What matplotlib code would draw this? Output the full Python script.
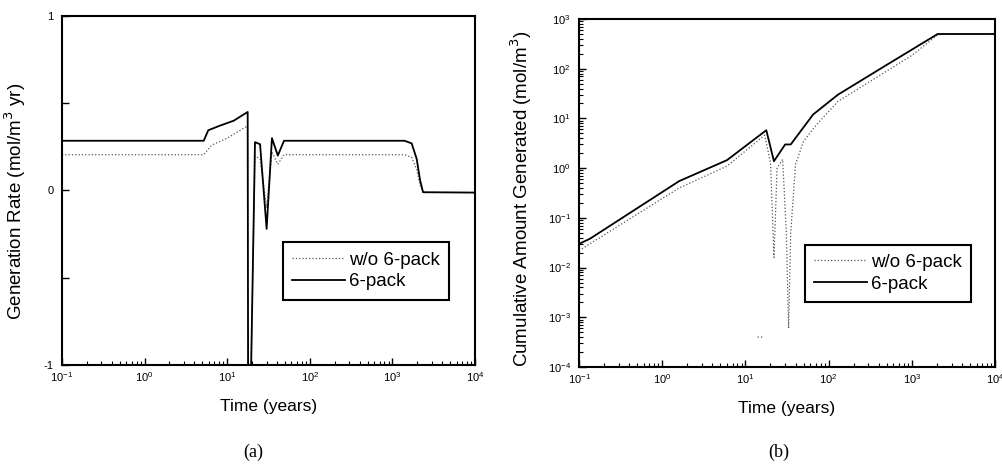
import numpy as np
import matplotlib
matplotlib.use("Agg")
import matplotlib.pyplot as plt
from matplotlib.ticker import LogLocator, NullFormatter, FixedLocator, FuncFormatter

plt.rcParams['font.family'] = ['Liberation Sans', 'DejaVu Sans']

# panel (a): generation rate
t_a_pack = [0.1, 5.2, 5.9, 8, 12, 17.7, 17.9, 19.5, 21.7, 25, 30, 34.8, 41, 48.7,
            1400, 1710, 1970, 2160, 2350, 10000]
r_a_pack = [0.285, 0.285, 0.345, 0.37, 0.40, 0.45, -1.0, -1.0, 0.277, 0.265, -0.22, 0.30, 0.20, 0.285,
            0.285, 0.27, 0.18, 0.06, -0.01, -0.012]
t_a_nopack = [0.1, 5.2, 6.5, 10, 17.6, 17.8, 19.5, 21.7, 25, 30, 34.8, 41, 48.7,
              1400, 1710, 1970, 2160, 2350, 10000]
r_a_nopack = [0.205, 0.205, 0.26, 0.30, 0.37, -1.0, -1.0, 0.20, 0.18, -0.10, 0.22, 0.15, 0.205,
              0.205, 0.19, 0.12, 0.03, -0.01, -0.012]

# panel (b): cumulative amount generated
t_b_pack = [0.1, 0.135, 1.6, 6, 17.8, 22, 30, 35, 65, 129, 500, 2040, 2500, 10000]
c_b_pack = [0.03, 0.038, 0.55, 1.45, 5.8, 1.38, 3.0, 3.0, 12, 30, 120, 500, 500, 500]
t_b_nopack = [0.1, 1.6, 6, 17, 20, 22, 24, 28, 31, 33, 35, 40, 50, 72, 129, 500, 1020, 2040, 2500, 10000,
              np.nan, 14, 16]
c_b_nopack = [0.022, 0.4, 1.1, 4.6, 1.3, 0.016, 1.0, 1.5, 0.05, 6e-4, 0.05, 1.2, 3.5, 7.6, 22, 90, 190, 480, 500, 500,
              np.nan, 4e-4, 4e-4]

labels = ["w/o 6-pack", "6-pack"]

fig = plt.figure(figsize=(10.03, 4.70), dpi=100)
ax1 = fig.add_axes([0.0618, 0.2234, 0.4118, 0.7426])
ax2 = fig.add_axes([0.5773, 0.2191, 0.4148, 0.7404])

ax1.plot(t_a_nopack, r_a_nopack, ls=':', color='#555555', lw=0.9, label=labels[0])
ax1.plot(t_a_pack, r_a_pack, '-', color='black', lw=1.3, label=labels[1])
ax1.set_xscale('log')
ax1.set_xlim(0.1, 1e4)
ax1.set_ylim(-1, 1)
ax1.yaxis.set_major_locator(FixedLocator([-1, -0.5, 0, 0.5, 1]))
ax1.yaxis.set_major_formatter(FuncFormatter(lambda v, p: "%d" % v if v == int(v) else ""))
ax1.set_ylabel("Generation Rate (mol/m$^3$ yr)", fontsize=13.5)
ax1.yaxis.set_label_coords(-0.082, 0.47)

ax2.plot(t_b_nopack, c_b_nopack, ls=':', color='#555555', lw=0.9, label=labels[0])
ax2.plot(t_b_pack, c_b_pack, '-', color='black', lw=1.3, label=labels[1])
ax2.set_xscale('log')
ax2.set_yscale('log')
ax2.set_xlim(0.1, 1e4)
ax2.set_ylim(1e-4, 1e3)
ax2.yaxis.set_major_locator(LogLocator(base=10, numticks=10))
ax2.yaxis.set_minor_locator(LogLocator(base=10, subs=np.arange(2, 10), numticks=20))
ax2.yaxis.set_minor_formatter(NullFormatter())
ax2.set_ylabel("Cumulative Amount Generated (mol/m$^3$)", fontsize=13.5)
ax2.yaxis.set_label_coords(-0.108, 0.483)

for ax, lx in ((ax1, 0.535), (ax2, 0.543)):
    ax.xaxis.set_major_locator(LogLocator(base=10, numticks=10))
    ax.xaxis.set_minor_locator(LogLocator(base=10, subs=np.arange(2, 10), numticks=20))
    ax.xaxis.set_minor_formatter(NullFormatter())
    ax.tick_params(which='both', direction='in', labelsize=8, top=False, right=False)
    ax.tick_params(which='major', length=5, width=1)
    ax.tick_params(which='minor', length=3, width=0.8)
    ax.tick_params(axis='y', which='major', pad=6)
    for s in ax.spines.values():
        s.set_linewidth(1.5)
    ax.set_xlabel("Time (years)", fontsize=12.5, labelpad=11)
    leg = ax.legend(loc='upper left', bbox_to_anchor=(lx, 0.352), fontsize=13.5,
                    fancybox=False, framealpha=1, edgecolor='black', handlelength=2.8,
                    handletextpad=0.2, borderpad=0.5, labelspacing=0.25, borderaxespad=0)
    leg.get_frame().set_linewidth(1.5)

fig.text(0.252, 0.038, "(a)", family='Liberation Serif', fontsize=13, ha='center', va='center')
fig.text(0.776, 0.038, "(b)", family='Liberation Serif', fontsize=13, ha='center', va='center')

fig.savefig("out.png", dpi=100)
